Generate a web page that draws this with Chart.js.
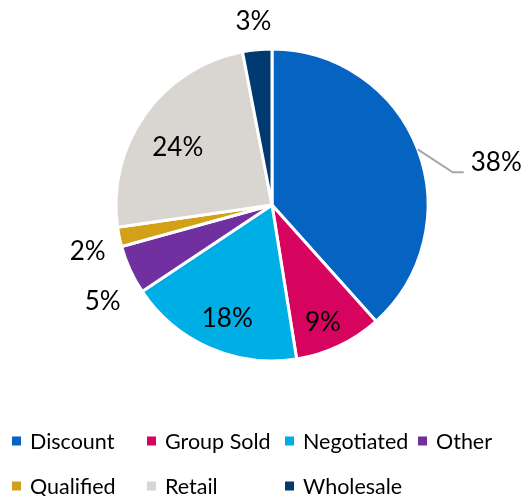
<!DOCTYPE html>
<html>
<head>
<meta charset="utf-8">
<script src="https://cdn.jsdelivr.net/npm/chart.js@4.4.1/dist/chart.umd.min.js"></script>
<style>
  html, body { margin: 0; padding: 0; background: #fff; }
  #wrap { width: 524px; height: 496px; position: relative; }
</style>
</head>
<body>
<div id="wrap"><canvas id="c" width="524" height="496"></canvas></div>
<script>
// ---- data ----
const categories = ["Discount", "Group Sold", "Negotiated", "Other", "Qualified", "Retail", "Wholesale"];
const shares = [38, 9, 18, 5, 2, 24, 3];
const percentLabels = ["38%", "9%", "18%", "5%", "2%", "24%", "3%"];

// ---- styles ----
const colors = ["#0563C1", "#D6045E", "#00AEE6", "#7030A0", "#D4A017", "#D9D6D1", "#003A70"];
// label placement: radius factor (x outer radius) and pixel nudge
const labelRadius = [null, 0.82, 0.78, 1.25, 1.22, 0.71, 1.18];
const labelNudge = [[0,0],[-4,2],[4,2],[8,16],[2,8],[-4,7],[-1,0]];
const labelFont = "26px Lato";

const labelPlugin = {
  id: "pieLabels",
  afterDatasetsDraw(chart) {
    const ctx = chart.ctx;
    const meta = chart.getDatasetMeta(0);
    ctx.save();
    ctx.font = labelFont;
    ctx.fillStyle = "#000";
    meta.data.forEach((arc, i) => {
      const p = arc.getProps(["x", "y", "startAngle", "endAngle", "outerRadius"], true);
      const mid = (p.startAngle + p.endAngle) / 2;
      if (labelRadius[i] === null) {
        const ex = p.x + Math.cos(mid) * p.outerRadius;
        const ey = p.y + Math.sin(mid) * p.outerRadius;
        const bx = ex + 35, by = ey + 23;
        const hx = bx + 11;
        ctx.strokeStyle = "#A6A6A6";
        ctx.lineWidth = 2;
        ctx.beginPath();
        ctx.moveTo(ex, ey);
        ctx.lineTo(bx, by);
        ctx.lineTo(hx, by);
        ctx.stroke();
        ctx.textAlign = "left";
        ctx.textBaseline = "middle";
        ctx.fillText(percentLabels[i], hx + 7, by - 10);
      } else {
        const r = p.outerRadius * labelRadius[i];
        const lx = p.x + Math.cos(mid) * r + labelNudge[i][0];
        const ly = p.y + Math.sin(mid) * r + labelNudge[i][1];
        ctx.textAlign = "center";
        ctx.textBaseline = "middle";
        ctx.fillText(percentLabels[i], lx, ly);
      }
    });
    ctx.restore();
  }
};

// custom grid legend (two rows, fixed columns)
const legendCols = 4;
const legendColX = [12, 147, 285, 418];
const legendRowY = [441, 486];
const legendPlugin = {
  id: "gridLegend",
  afterDraw(chart) {
    const ctx = chart.ctx;
    ctx.save();
    ctx.font = "21.5px Lato";
    ctx.textBaseline = "middle";
    ctx.textAlign = "left";
    categories.forEach((name, i) => {
      const col = i % legendCols, row = Math.floor(i / legendCols);
      const x = legendColX[col], y = legendRowY[row];
      ctx.fillStyle = colors[i];
      ctx.fillRect(x, y - 4.5, 9, 9);
      ctx.fillStyle = "#000";
      ctx.fillText(name, x + 18, y + 1);
    });
    ctx.restore();
  }
};

new Chart(document.getElementById("c"), {
  type: "pie",
  data: {
    labels: categories,
    datasets: [{
      data: shares,
      backgroundColor: colors,
      borderColor: "#ffffff",
      borderWidth: 3,
      hoverOffset: 0,
      radius: 156
    }]
  },
  options: {
    responsive: false,
    animation: false,
    events: [],
    layout: { padding: { left: 40, right: 20, top: 20, bottom: 106 } },
    plugins: {
      legend: { display: false },
      tooltip: { enabled: false }
    }
  },
  plugins: [labelPlugin, legendPlugin]
});
</script>
</body>
</html>
